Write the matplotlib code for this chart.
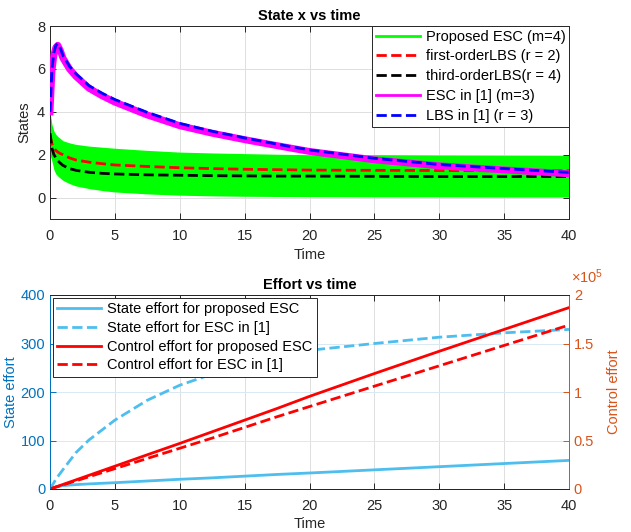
import numpy as np
import matplotlib
matplotlib.use("Agg")
import matplotlib.pyplot as plt
from matplotlib.lines import Line2D
from matplotlib.ticker import FuncFormatter

plt.rcParams['font.family'] = ['Liberation Sans', 'DejaVu Sans']
plt.rcParams['mathtext.fontset'] = 'custom'
plt.rcParams['mathtext.rm'] = 'Liberation Sans'

# --- State x vs time ---
t = [0, 0.15, 0.3, 0.45, 0.6, 0.8, 1, 1.5, 2, 3, 4, 5, 7.5, 10, 12.5, 15,
     17.5, 20, 25, 30, 35, 40]
green_upper = [4.0, 3.4, 3.1, 2.95, 2.85, 2.75, 2.65, 2.55, 2.48, 2.4, 2.35,
               2.3, 2.2, 2.12, 2.08, 2.05, 2.02, 2.0, 2.0, 1.98, 1.97, 1.96]
green_lower = [2.0, 1.7, 1.3, 1.1, 1.0, 0.9, 0.8, 0.65, 0.54, 0.42, 0.33,
               0.26, 0.17, 0.11, 0.08, 0.06, 0.05, 0.04, 0.03, 0.03, 0.02, 0.02]
first_lbs = [2.9, 2.5, 2.3, 2.2, 2.12, 2.05, 2.0, 1.85, 1.75, 1.65, 1.58,
             1.52, 1.45, 1.39, 1.35, 1.32, 1.3, 1.28, 1.27, 1.26, 1.25, 1.25]
third_lbs = [3.0, 2.3, 2.0, 1.85, 1.72, 1.6, 1.5, 1.35, 1.27, 1.18, 1.13,
             1.1, 1.06, 1.04, 1.02, 1.01, 1.0, 1.0, 0.99, 0.98, 0.98, 0.98]
esc_ref = [4.0, 5.9, 6.65, 7.0, 7.1, 6.85, 6.5, 6.0, 5.65, 5.1, 4.75, 4.45,
           3.85, 3.35, 3.0, 2.7, 2.42, 2.15, 1.76, 1.48, 1.29, 1.11]
lbs_ref = [4.0, 6.0, 6.75, 7.1, 7.18, 6.95, 6.62, 6.12, 5.77, 5.22, 4.87, 4.57,
           3.97, 3.46, 3.09, 2.78, 2.49, 2.22, 1.83, 1.54, 1.35, 1.17]

# --- Effort vs time ---
t_eff = [0, 0.5, 1, 2, 3, 5, 7.5, 10, 12.5, 15, 17.5, 20, 25, 30, 35, 40]
state_prop = [0, 5, 7, 9, 10.5, 13, 16.5, 20, 23, 26.5, 30, 33, 39.5, 46,
              52.5, 59]
state_ref = [0, 22, 40, 75, 101, 142, 183, 214, 237, 256, 272, 286, 300, 313,
             322, 329]
ctrl_prop = [0, 2350, 4700, 9400, 14100, 23500, 35300, 47000, 59000, 71000,
             83000, 95500, 119000, 142000, 164500, 187000]
ctrl_ref = [0, 2100, 4200, 8400, 12600, 21000, 31500, 42000, 52500, 63500,
            74500, 85000, 106000, 127000, 148000, 169000]

dark = '#262626'
mblue = '#0072BD'
morange = '#D95319'
lblue = '#4DBEEE'

fig = plt.figure(figsize=(6.31, 5.32), dpi=100)
ax = fig.add_axes([50 / 631, 1 - 219 / 532, 519 / 631, 193 / 532])

ax.fill_between(t, green_lower, green_upper, color='#00FF00', lw=0, zorder=2)
ax.plot(t, first_lbs, '--', color='#FF0000', lw=2, zorder=3)
ax.plot(t, third_lbs, '--', color='black', lw=2, zorder=3)
ax.plot(t, esc_ref, '-', color='#FF00FF', lw=5, zorder=4)
ax.plot(t, lbs_ref, '--', color='#0000FF', lw=2, zorder=5)

ax.set_xlim(0, 40)
ax.set_ylim(-1, 8)
ax.set_xticks(range(0, 41, 5))
ax.set_yticks([0, 2, 4, 6, 8])
ax.grid(True, color='#dedede', lw=0.7)
ax.set_axisbelow(True)
ax.tick_params(direction='in', top=True, right=True, length=4, labelsize=10.5,
               colors=dark, width=0.7)
ax.tick_params(axis='x', pad=7)
for s in ax.spines.values():
    s.set_color(dark)
    s.set_linewidth(0.7)
ax.set_xlabel('Time', fontsize=10.5, color=dark, labelpad=4)
ax.set_ylabel('States', fontsize=10.5, color=dark, labelpad=4)
ax.set_title('State x vs time', fontsize=10.5, fontweight='bold', pad=4)

handles = [Line2D([], [], color='#00FF00', lw=2),
           Line2D([], [], color='#FF0000', lw=2, ls='--'),
           Line2D([], [], color='black', lw=2, ls='--'),
           Line2D([], [], color='#FF00FF', lw=2),
           Line2D([], [], color='#0000FF', lw=2, ls='--')]
labels = ['Proposed ESC (m=4)', 'first-orderLBS (r = 2)', 'third-orderLBS(r = 4)',
          'ESC in [1] (m=3)', 'LBS in [1] (r = 3)']
leg = ax.legend(handles, labels, loc='upper right', fontsize=10.5, handlelength=3,
                fancybox=False, framealpha=1, borderpad=0.25, labelspacing=0.4,
                handletextpad=0.4, borderaxespad=0.0)
leg.get_frame().set_edgecolor(dark)
leg.get_frame().set_linewidth(0.7)

# bottom plot
bx = fig.add_axes([50 / 631, 1 - 489 / 532, 519 / 631, 194 / 532])
bx2 = bx.twinx()

l1, = bx.plot(t_eff, state_prop, '-', color=lblue, lw=2)
l2, = bx.plot(t_eff, state_ref, '--', color=lblue, lw=2)
l3, = bx2.plot(t_eff, ctrl_prop, '-', color='#FF0000', lw=2)
l4, = bx2.plot(t_eff, ctrl_ref, '--', color='#FF0000', lw=2)

bx.set_xlim(0, 40)
bx.set_ylim(0, 400)
bx2.set_ylim(0, 2e5)
bx.set_xticks(range(0, 41, 5))
bx.set_yticks(range(0, 401, 100))
bx2.set_yticks([0, 0.5e5, 1e5, 1.5e5, 2e5])
bx2.yaxis.set_major_formatter(FuncFormatter(lambda v, p: f'{v / 1e5:g}'))

bx.xaxis.grid(True, color='#dedede', lw=0.7)
bx.yaxis.grid(True, color='#d9eaf5', lw=0.7)
bx.set_axisbelow(True)
bx.tick_params(axis='x', direction='in', top=True, length=4, labelsize=10.5,
               colors=dark, width=0.7, pad=7)
bx.tick_params(axis='y', direction='in', length=4, labelsize=10.5,
               colors=mblue, width=0.7)
bx2.tick_params(axis='y', direction='in', length=4, labelsize=10.5,
                colors=morange, width=0.7)
for a in (bx, bx2):
    for k, s in a.spines.items():
        s.set_linewidth(0.7)
        s.set_color(dark)
    a.spines['left'].set_color(mblue)
    a.spines['right'].set_color(morange)

bx.set_xlabel('Time', fontsize=10.5, color=dark, labelpad=3)
bx.set_ylabel('State effort', fontsize=10.5, color=mblue, labelpad=2)
bx2.set_ylabel('Control effort', fontsize=10.5, color=morange, labelpad=9)
bx.set_title('Effort vs time', fontsize=10.5, fontweight='bold', pad=4)
bx2.text(1.003, 1.045, r'$\times\mathregular{10^{5}}$', transform=bx2.transAxes,
         ha='left', va='bottom', fontsize=10.5, color=morange)

leg2 = bx2.legend([l1, l2, l3, l4],
                  ['State effort for proposed ESC', 'State effort for ESC in [1]',
                   'Control effort for proposed ESC', 'Control effort for ESC in [1]'],
                  loc='upper left', fontsize=10.5, handlelength=3, fancybox=False,
                  framealpha=1, borderpad=0.3, labelspacing=0.32,
                  handletextpad=0.4, borderaxespad=0.2)
leg2.get_frame().set_edgecolor(dark)
leg2.get_frame().set_linewidth(0.7)

fig.savefig('out.png', dpi=100)
